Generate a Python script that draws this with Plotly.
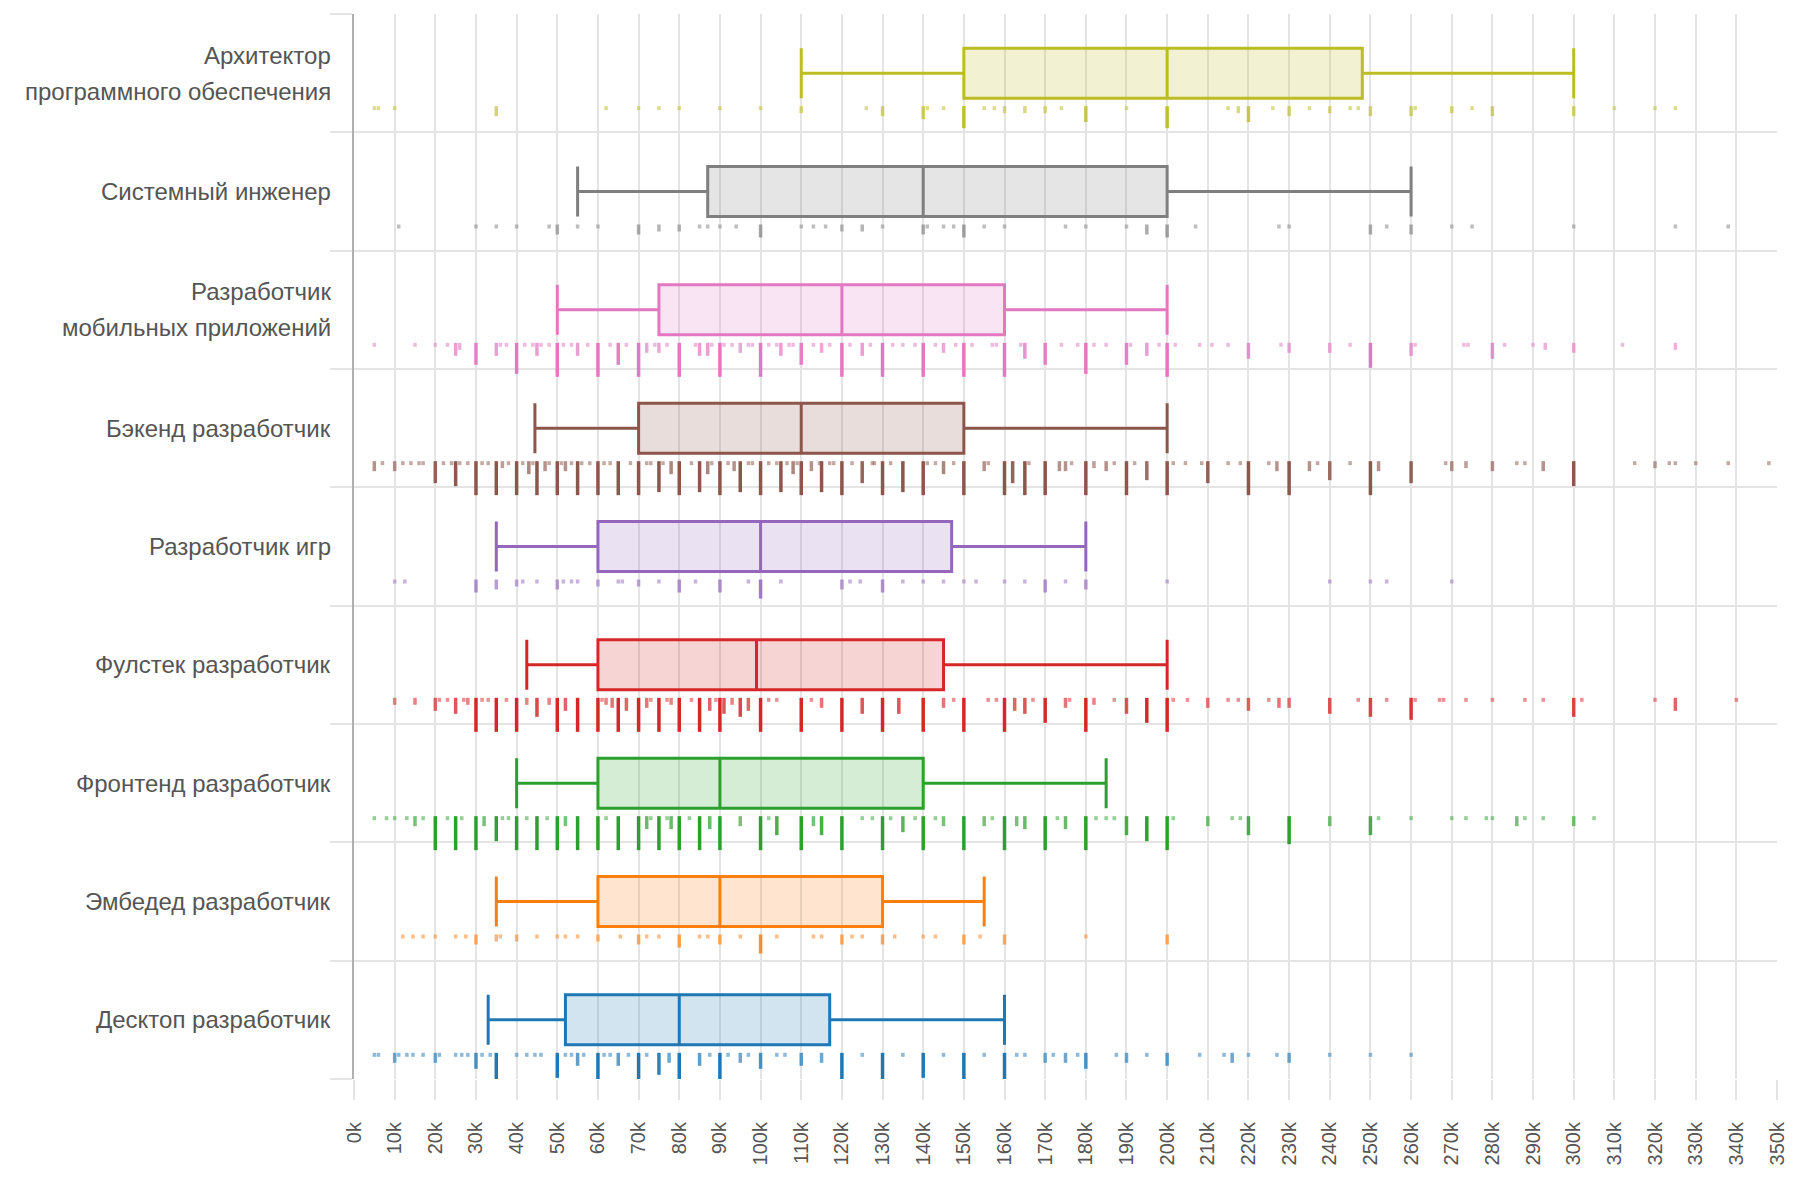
import plotly.graph_objects as go

# ---------------- data (salary, thousands) ----------------
categories = [
    "Десктоп разработчик",
    "Эмбедед разработчик",
    "Фронтенд разработчик",
    "Фулстек разработчик",
    "Разработчик игр",
    "Бэкенд разработчик",
    "Разработчик мобильных приложений",
    "Системный инженер",
    "Архитектор программного обеспечения",
]
label_lines = [
    ["Десктоп разработчик"],
    ["Эмбедед разработчик"],
    ["Фронтенд разработчик"],
    ["Фулстек разработчик"],
    ["Разработчик игр"],
    ["Бэкенд разработчик"],
    ["Разработчик", "мобильных приложений"],
    ["Системный инженер"],
    ["Архитектор", "программного обеспечения"],
]
colors = ["#1f77b4", "#ff7f0e", "#2ca02c", "#d62728", "#9467bd",
          "#8c564b", "#e377c2", "#7f7f7f", "#bcbd22"]

lowerfence = [33, 35, 40, 42.5, 35, 44.5, 50, 55, 110]
q1 = [52, 60, 60, 60, 60, 70, 75, 87, 150]
median = [80, 90, 90, 99, 100, 110, 120, 140, 200]
q3 = [117, 130, 140, 145, 147, 150, 160, 200, 248]
upperfence = [160, 155, 185, 200, 180, 200, 200, 260, 300]

# rug data: (salary in k, number of answers)
desk_rug = [(5,1),(6,1),(10,3),(11,1),(13,1),(14.5,1),(17,1),(20,3),(21,1),(25,1),(26.5,1),(28,1),
            (30,5),(31.5,1),(33.5,1),(35,12),(40,1),(42.5,1),(44.5,1),(46,1),(50,8),(52,1),(53.5,1),
            (55,4),(56.5,1),(60,12),(61.5,1),(63,1),(65,4),(67.5,1),(70,12),(72,1),(75,7),(77.5,3),
            (80,12),(85,4),(87.5,1),(90,12),(92,1),(95,3),(97,1),(100,5),(104,1),(106,1),(110,4),
            (115,3),(120,12),(125,1),(130,12),(135,1),(140,8),(145,1),(150,12),(155,1),(160,12),
            (163,1),(165,1),(170,3),(172,1),(175,3),(178,1),(180,5),(187.5,1),(190,3),(195,1),
            (200,4),(208,1),(214,1),(216,3),(220,1),(227,1),(230,3),(240,1),(250,1),(260,1)]
emb_rug = [(12,1),(14.5,1),(17,1),(20,1),(25,1),(27.5,1),(30,3),(35,2),(36,1),(40,2),(45,1),(50,1),
           (52,1),(55,1),(60,2),(65.5,1),(70,3),(72,1),(75,1),(80,4),(85,1),(87,1),(90,3),(95,1),
           (100,6),(104,1),(113,1),(115,1),(120,3),(122.5,1),(125,1),(130,3),(133,1),(140,1),
           (143,1),(150,3),(154,1),(160,3),(180,1),(200,3)]
front_rug = [(5,1),(8,1),(10,1),(13,1),(15,3),(17,1),(20,12),(23,1),(25,12),(26.5,1),(30,12),(32,3),
             (35,8),(36.5,1),(38,1),(40,12),(42.5,1),(45,12),(47.5,1),(50,12),(52,3),(55,12),(60,12),
             (62,1),(65,12),(70,12),(72,4),(73,1),(75,12),(77,1),(78,4),(80,12),(82.5,1),(85,12),
             (87.5,4),(90,12),(95,3),(100,12),(102,1),(104,6),(110,12),(113,3),(115,6),(120,12),
             (125,1),(127.5,1),(130,12),(132,1),(135,5),(138,1),(140,12),(143,1),(145,3),(150,12),
             (155,3),(157,1),(160,12),(163,3),(165,4),(170,12),(173,1),(175,4),(180,12),(182.5,1),
             (185,1),(187,1),(190,6),(195,8),(200,12),(201.5,1),(210,3),(216,1),(218,1),(220,6),
             (230,9),(240,3),(250,6),(252,1),(260,1),(270,1),(273.5,1),(278.5,1),(280,1),(286,3),
             (288,1),(292.5,1),(300,3),(305,1)]
full_rug = [(10,2),(15,2),(20,4),(21,1),(23,1),(25,5),(27,1),(28,2),(30,12),(31.5,1),(33,1),(35,12),
            (37.5,1),(40,12),(42.5,2),(45,6),(48,2),(50,12),(52,4),(55,12),(60,12),(61,1),(62,2),
            (63.5,3),(65,12),(67,4),(70,12),(72,3),(73,1),(75,12),(77,1),(78,2),(80,12),(83,1),
            (85,12),(87.5,4),(89,1),(90,12),(91,5),(93,2),(95,6),(97,4),(100,12),(102,1),(104,1),
            (110,12),(112.5,1),(115,3),(120,12),(125,5),(130,12),(134,5),(140,12),(145,3),(147.5,1),
            (150,12),(156,1),(158,1),(160,12),(162.5,4),(165,5),(167,1),(170,8),(175,3),(176,1),
            (180,12),(182,2),(187,1),(190,5),(195,8),(200,12),(201.5,1),(205,1),(210,3),(215,1),
            (217.5,1),(220,4),(225,1),(227.5,3),(230,3),(240,5),(247,1),(250,6),(254,1),(260,7),
            (261,1),(267,1),(268,1),(273.5,1),(280,1),(288,1),(292.5,1),(300,6),(302,1),(320,1),
            (325,4),(340,1)]
game_rug = [(10,1),(12.5,1),(30,4),(35,3),(40,2),(41.5,1),(45,1),(50,3),(51.5,1),(53.5,1),(55,1),
            (60,2),(65,1),(66,1),(70,2),(75,1),(80,4),(84,1),(90,4),(97,1),(100,6),(105,1),(120,3),
            (122,1),(124.5,1),(130,4),(135,1),(140,1),(145,1),(150,1),(153,1),(160,1),(165,1),
            (170,4),(175,1),(180,3),(200,1),(240,1),(250,1),(254,1),(270,1)]
back_rug = [(5,3),(7,1),(10,3),(12,1),(14,1),(16,1),(17,1),(20,7),(22,1),(24,1),(25,8),(26,1),(28,1),
            (30,12),(31.5,1),(33,1),(35,12),(36.5,2),(38,1),(40,12),(41.5,1),(43,4),(44,1),(45,12),
            (47,3),(48,1),(50,12),(51,1),(52,3),(53.5,1),(55,12),(56,1),(58,1),(60,12),(61.5,1),
            (63,1),(65,12),(68,1),(70,12),(72,1),(73,1),(75,10),(76,1),(78,4),(80,12),(83,1),
            (85,10),(87,4),(88,1),(90,12),(92,1),(93.5,3),(95,10),(97,1),(98,1),(100,12),(102,1),
            (104,1),(105,10),(106.5,1),(108,4),(109,1),(110,12),(112.5,3),(114.5,1),(115,10),
            (117,1),(118,1),(120,12),(122.5,1),(125,7),(127.5,1),(128,1),(130,12),(132,1),(135,10),
            (140,12),(141,1),(143,1),(145,4),(147.5,1),(150,12),(155,3),(156,1),(160,12),(162,7),
            (165,12),(166,1),(170,12),(173.5,3),(175,3),(176.5,1),(180,12),(182,2),(185,3),(187,1),
            (190,12),(192,1),(195,6),(200,12),(201.5,1),(204.5,1),(208.5,1),(210,7),(215,1),(218,1),
            (220,12),(225,1),(227,3),(230,12),(235,3),(237,1),(240,6),(245,1),(250,12),(252,3),
            (260,7),(268.5,1),(270,3),(273.5,2),(280,3),(286,1),(288,1),(292.5,3),(300,8),(315,1),
            (320,2),(323.5,1),(325,1),(330,1),(338,1),(348,1)]
mob_rug = [(5,1),(15,1),(20,1),(23,1),(25,4),(26,2),(30,7),(35,4),(36,1),(37.5,1),(40,10),(42,1),
           (44,1),(45,4),(46,1),(48,1),(50,11),(51.5,1),(53.5,1),(55,4),(57.5,1),(60,12),(63,1),
           (65,7),(67,1),(70,12),(72,3),(74,1),(75,3),(77,1),(80,12),(84,1),(85,4),(87,4),(88,1),
           (90,12),(91,1),(93,1),(95,3),(97,1),(98,1),(100,12),(102,1),(104,1),(105,4),(107,1),
           (108,1),(110,7),(113,1),(115,3),(117,1),(120,12),(122,1),(125,4),(127,1),(130,12),
           (132.5,1),(135,1),(138,1),(140,12),(143,1),(145,3),(148,1),(150,12),(152,1),(157,1),
           (158,1),(160,12),(164,1),(165,5),(170,7),(174,1),(178,1),(180,10),(182,1),(185,1),
           (190,7),(191,1),(195,4),(198,1),(200,12),(202,1),(208,1),(211,1),(215,1),(220,5),
           (228,1),(230,3),(240,3),(245,1),(250,8),(260,4),(261,1),(273,1),(274,1),(280,5),
           (283,1),(290,1),(293,2),(300,3),(312,1),(325,2)]
sys_rug = [(11,1),(30,1),(35,1),(40,1),(48,1),(50,3),(55,1),(60,1),(70,3),(75,2),(80,2),(85,1),
           (87,1),(90,1),(94,1),(100,4),(110,1),(113,1),(116,1),(120,2),(125,2),(130,1),(140,3),
           (141,1),(145,1),(147.5,1),(150,4),(155,1),(160,1),(175,1),(180,1),(190,1),(195,3),
           (200,4),(207,1),(227.5,1),(230,1),(250,3),(254,1),(260,3),(270,1),(275,1),(300,1),
           (325,1),(338,1)]
arch_rug = [(5,1),(6,1),(10,1),(35,3),(62,1),(70,1),(75,1),(80,1),(90,1),(100,1),(110,2),(126,1),
            (130,3),(140,4),(141,1),(145,1),(150,7),(155,1),(157.5,1),(160,2),(165,2),(170,2),
            (174,1),(180,5),(190,1),(200,7),(215,1),(217.5,2),(220,5),(226,1),(230,3),(235,1),
            (240,2),(245,1),(247,1),(250,3),(260,3),(261,1),(270,2),(275,1),(280,3),(300,3),
            (310,1),(320,1),(325,1)]

rugs = [desk_rug, emb_rug, front_rug, full_rug, game_rug, back_rug, mob_rug, sys_rug, arch_rug]

x_ticks = list(range(0, 351, 10))
x_tick_text = [f"{v}k" for v in x_ticks]

# ---------------- layout geometry ----------------
W, H = 1800, 1192
M_L, M_R, M_T, M_B = 354, 14, 14, 113
plot_h = H - M_T - M_B
n_cat = len(categories)
px_per_unit = plot_h / n_cat

BOX_PX = 50          # box height in px
RUG_TOP = 33         # px from category centre to top of rug marks
DOT_PX, STEP_PX, MAX_PX = 4, 3, 34

GRID = "#e4e4e4"
TEXT = "#555555"
FONT = "Liberation Sans, Arial, Helvetica, sans-serif"


def hex_rgba(h, a):
    h = h.lstrip("#")
    r, g, b = int(h[0:2], 16), int(h[2:4], 16), int(h[4:6], 16)
    return f"rgba({r},{g},{b},{a})"


fig = go.Figure()

for i, cat in enumerate(categories):
    c = colors[i]
    # rug
    xs, ys, sizes, ops = [], [], [], []
    for v, n in rugs[i]:
        L = min(MAX_PX, DOT_PX + STEP_PX * (n - 1))
        xs.append(v)
        ys.append(i - (RUG_TOP + L / 2) / px_per_unit)
        sizes.append(L / 1.4)
        ops.append(min(1.0, 0.5 + 0.07 * (n - 1)))
    fig.add_trace(go.Scatter(
        x=xs, y=ys, mode="markers", showlegend=False, hoverinfo="x",
        marker=dict(symbol="line-ns", size=sizes, color=c, opacity=ops,
                    line=dict(width=3.5, color=c)),
    ))
    # box
    fig.add_trace(go.Box(
        y=[i], q1=[q1[i]], median=[median[i]], q3=[q3[i]],
        lowerfence=[lowerfence[i]], upperfence=[upperfence[i]],
        orientation="h", name=cat, showlegend=False, boxpoints=False,
        width=BOX_PX / px_per_unit, whiskerwidth=1,
        line=dict(color=c, width=3), fillcolor=hex_rgba(c, 0.2),
    ))

# category labels
annotations = []
for i, lines in enumerate(label_lines):
    nl = len(lines)
    for j, t in enumerate(lines):
        shift = (nl - 1) / 2 * 36 - j * 36
        annotations.append(dict(
            x=0, xref="paper", y=i, yref="y", text=t, showarrow=False,
            xanchor="right", yanchor="middle", xshift=-21, yshift=shift,
            font=dict(size=24, color=TEXT, family=FONT),
        ))

bounds = [k - 0.5 for k in range(n_cat + 1)]

fig.update_layout(
    width=W, height=H,
    margin=dict(l=M_L, r=M_R, t=M_T, b=M_B, pad=0),
    paper_bgcolor="white", plot_bgcolor="white",
    font=dict(family=FONT, color=TEXT),
    annotations=annotations,
    xaxis=dict(
        range=[0, 350], tickmode="array", tickvals=x_ticks, ticktext=x_tick_text,
        tickangle=-90, ticklabelstandoff=14,
        showgrid=True, gridcolor=GRID, gridwidth=2,
        ticks="outside", ticklen=20, tickwidth=2, tickcolor=GRID,
        zeroline=False, showline=False,
        tickfont=dict(size=20, color=TEXT, family=FONT),
    ),
    yaxis=dict(
        range=[-0.5, n_cat - 0.5], tickvals=bounds, ticktext=["" for _ in bounds],
        showgrid=True, gridcolor=GRID, gridwidth=2,
        ticks="outside", ticklen=22, tickwidth=2, tickcolor=GRID,
        zeroline=False, showline=True, linecolor="#b0b0b0", linewidth=2,
    ),
)

fig.write_html("out.html")
